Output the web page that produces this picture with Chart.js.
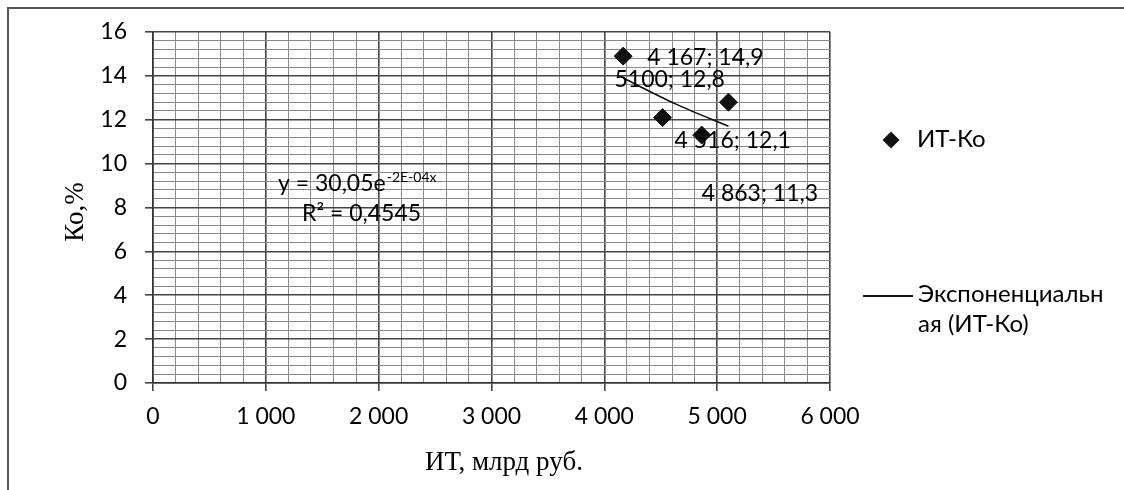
<!DOCTYPE html>
<html>
<head>
<meta charset="utf-8">
<script src="https://cdn.jsdelivr.net/npm/chart.js@4/dist/chart.umd.min.js"></script>
<style>
  html, body { margin: 0; padding: 0; background: #fff; overflow: hidden; }
  #wrap { position: relative; width: 1124px; height: 490px; }
  #frame { position: absolute; left: 7px; top: 7px; width: 1200px; height: 600px; border: 2px solid #555; box-sizing: border-box; }
  canvas { position: absolute; left: 0; top: 0; }
  .leg { position: absolute; font-family: Lato, "Open Sans", sans-serif; font-size: 24px; color: #000; line-height: 30px; white-space: nowrap; }
</style>
</head>
<body>
<div id="wrap">
  <div id="frame"></div>
  <canvas id="c" width="1124" height="490"></canvas>
  <div class="leg" style="left:882px; top:123px;"><span style="display:inline-block;width:12px;height:12px;background:#111;transform:rotate(45deg);margin:0 20px 2px 3px;vertical-align:middle;"></span>ИТ-Ко</div>
  <div class="leg" style="left:863px; top:278px;"><span style="display:inline-block;width:50px;height:2px;background:#111;vertical-align:middle;margin-right:5px;"></span>Экспоненциальн</div>
  <div class="leg" style="left:918px; top:308px;">ая (ИТ-Ко)</div>
</div>
<script>
// ---- data ----
const itValues = [4167, 5100, 4516, 4863];          // ИТ, млрд руб.
const koValues = [14.9, 12.8, 12.1, 11.3];          // Ко, %
const pointLabels = ['4 167; 14,9', '5100; 12,8', '4 516; 12,1', '4 863; 11,3'];
const trendX = [4167, 4640, 5100];                  // exponential trendline
const trendY = [13.9, 12.7, 11.7];
const seriesName = 'ИТ-Ко';
const trendName = 'Экспоненциальная (ИТ-Ко)';
const equationText = 'y = 30,05e';
const equationExp = '-2E-04x';
const r2Text = 'R² = 0,4545';
const xTitle = 'ИТ, млрд руб.';
const yTitle = 'Ко,%';

// ---- styling / placement (pixels) ----
const labelOffsets = [[24, 1], [-114, -23], [12, 23], [0, 58]];
const SANS = 'Lato, "Open Sans", sans-serif';
const TICK_FONT = { family: SANS, size: 23 };

const isMajor = (v, step) => Math.abs(v / step - Math.round(v / step)) < 1e-6;
const fmtX = v => v === 0 ? '0' : (Math.round(v / 1000)) + ' 000';

const annotations = {
  id: 'annotations',
  afterDatasetsDraw(chart) {
    const ctx = chart.ctx;
    const xs = chart.scales.x, ys = chart.scales.y;
    ctx.save();
    ctx.fillStyle = '#000';
    ctx.font = '23px ' + SANS;
    ctx.textAlign = 'left';
    ctx.textBaseline = 'middle';
    itValues.forEach((v, i) => {
      const px = xs.getPixelForValue(v), py = ys.getPixelForValue(koValues[i]);
      ctx.fillText(pointLabels[i], px + labelOffsets[i][0], py + labelOffsets[i][1]);
    });
    // equation
    const ex = 278, ey = 184;
    ctx.fillText(equationText, ex, ey);
    const w = ctx.measureText(equationText).width;
    ctx.font = '14px ' + SANS;
    ctx.fillText(equationExp, ex + w + 1, ey - 7);
    ctx.font = '23px ' + SANS;
    ctx.fillText(r2Text, 302, 214);
    // axis titles
    ctx.font = '27px "Liberation Serif", "DejaVu Serif", serif';
    ctx.textAlign = 'center';
    ctx.fillText(xTitle, 504, 463);
    ctx.translate(76, 212);
    ctx.rotate(-Math.PI / 2);
    ctx.fillText(yTitle, 0, 0);
    ctx.restore();
  }
};

new Chart(document.getElementById('c'), {
  type: 'scatter',
  data: {
    datasets: [
      {
        label: seriesName,
        data: itValues.map((x, i) => ({ x, y: koValues[i] })),
        pointStyle: 'rectRot',
        pointRadius: 9,
        pointHoverRadius: 9,
        backgroundColor: '#111',
        borderColor: '#111',
        showLine: false
      },
      {
        label: trendName,
        data: trendX.map((x, i) => ({ x, y: trendY[i] })),
        showLine: true,
        borderColor: '#111',
        borderWidth: 1.6,
        pointRadius: 0,
        tension: 0.3
      }
    ]
  },
  options: {
    responsive: false,
    animation: false,
    events: [],
    layout: { padding: { left: 0, top: 32, right: 294, bottom: 0 } },
    plugins: { legend: { display: false }, tooltip: { enabled: false } },
    scales: {
      x: {
        type: 'linear', min: 0, max: 6000,
        afterFit: s => { s.height = 107; },
        ticks: {
          stepSize: 200, autoSkip: false, maxRotation: 0, minRotation: 0,
          color: '#000', font: TICK_FONT, padding: 12,
          callback: v => isMajor(v, 1000) ? fmtX(v) : ''
        },
        grid: {
          color: c => isMajor(c.tick.value, 1000) ? '#444' : '#8a8a8a',
          lineWidth: c => isMajor(c.tick.value, 1000) ? 1.6 : 1,
          tickColor: c => isMajor(c.tick.value, 1000) ? '#444' : 'rgba(0,0,0,0)',
          tickLength: 8
        },
        border: { display: true, color: '#333', width: 1.6 }
      },
      y: {
        type: 'linear', min: 0, max: 16,
        afterFit: s => { s.width = 153; },
        ticks: {
          stepSize: 0.4, autoSkip: false,
          color: '#000', font: TICK_FONT, padding: 18,
          callback: v => isMajor(v, 2) ? String(Math.round(v)) : ''
        },
        grid: {
          color: c => isMajor(c.tick.value, 2) ? '#444' : '#8a8a8a',
          lineWidth: c => isMajor(c.tick.value, 2) ? 1.6 : 1,
          tickColor: c => isMajor(c.tick.value, 2) ? '#444' : 'rgba(0,0,0,0)',
          tickLength: 8
        },
        border: { display: true, color: '#333', width: 1.6 }
      }
    }
  },
  plugins: [annotations]
});
</script>
</body>
</html>
